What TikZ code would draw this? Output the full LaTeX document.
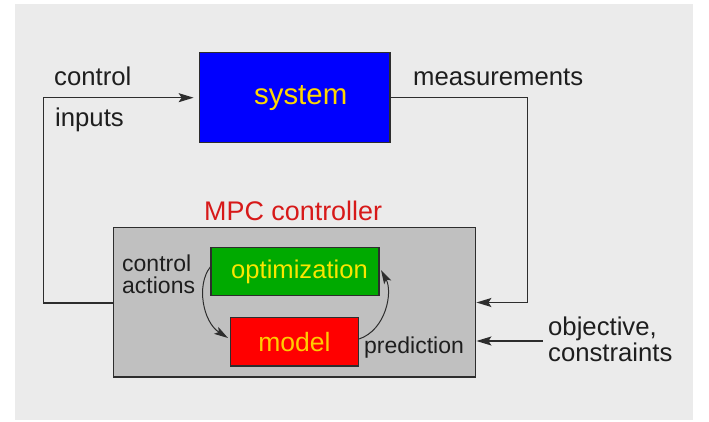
\documentclass[tikz,border=0pt]{standalone}
\usepackage{fontspec}
\setmainfont{Liberation Sans}
\usetikzlibrary{arrows.meta}
\definecolor{bggray}{RGB}{235,235,235}
\definecolor{ctrlgray}{RGB}{192,192,192}
\definecolor{sysblue}{RGB}{0,0,255}
\definecolor{optgreen}{RGB}{0,170,0}
\definecolor{modred}{RGB}{255,0,0}
\definecolor{txtyellow}{RGB}{255,215,0}
\definecolor{modyellow}{RGB}{255,205,0}
\definecolor{optyellow}{RGB}{250,230,0}
\definecolor{mpcred}{RGB}{215,25,25}
\definecolor{linegray}{RGB}{45,45,45}
\definecolor{txtdark}{RGB}{30,30,30}
\tikzset{
  box/.style={draw=linegray, line width=1.4pt, inner sep=0pt},
  conn/.style={draw=linegray, line width=1.5pt},
  arr/.style={conn, -{Stealth[length=15pt,width=9pt,inset=3pt]}},
  curvearr/.style={draw=linegray, line width=1pt, -{Stealth[length=14pt,width=8pt,inset=3pt]}},
  lbl/.style={anchor=base west, inner sep=0pt, text=txtdark, font=\fontsize{25.7}{28}\selectfont},
  smlbl/.style={anchor=base west, inner sep=0pt, text=txtdark, font=\fontsize{23}{25}\selectfont},
}
\begin{document}
\begin{tikzpicture}[x=1pt,y=-1pt]
\useasboundingbox (0,0) rectangle (709,422);
\fill[bggray] (15,4) rectangle (693,420);

% boxes
\node[box, fill=sysblue, minimum width=190.7pt, minimum height=90pt, text=txtyellow,
  font=\fontsize{29.4}{32}\selectfont] (sys) at (294.7,97.7) {\hspace{12pt}system};
\node[box, fill=ctrlgray, minimum width=362.4pt, minimum height=149.3pt] (ctrl) at (294.5,302.35) {};
\node[box, fill=optgreen, minimum width=168pt, minimum height=48.4pt, text=optyellow,
  font=\fontsize{25.6}{28}\selectfont] (opt) at (295,271.5) {\hspace{9pt}optimization};
\node[box, fill=modred, minimum width=127.6pt, minimum height=48.3pt, text=modyellow,
  font=\fontsize{26.5}{28}\selectfont] (mod) at (294.5,341.9) {model};

% texts
\node[lbl] (tcontrol) at (54,86) {control};
\node[lbl] (tinputs) at (55,127) {inputs};
\node[lbl] (tmeas) at (413,86) {measurements};
\node[anchor=base west, inner sep=0pt, text=mpcred, font=\fontsize{26.9}{29}\selectfont] (tmpc) at (204,220) {MPC controller};
\node[smlbl] (tca1) at (122,271.7) {control};
\node[smlbl] (tca2) at (122,293) {actions};
\node[smlbl] (tpred) at (364,353) {prediction};
\node[lbl] (tobj) at (548,335) {objective,};
\node[lbl] (tcons) at (548,361.7) {constraints};

% connector coordinates
\coordinate (cl1) at (43.3,303);
\coordinate (cl2) at (43.3,97.7);
\coordinate (cr1) at (527.7,97.7);
\coordinate (cr2) at (527.7,302.5);
\coordinate (oin) at (542.7,341);

% connectors
\draw[arr, shorten >=5pt] (ctrl.west |- cl1) -- (cl1) -- (cl2) -- (sys.west |- cl2);
\draw[arr] (sys.east |- cr1) -- (cr1) -- (cr2) -- (ctrl.east |- cr2);
\draw[arr] (oin) -- (ctrl.east |- oin);

% internal curved arrows
\coordinate (c1s) at (211,267);
\coordinate (c1e) at (228,338);
\coordinate (c2s) at (360,339);
\coordinate (c2e) at (381,270);
\draw[curvearr] (opt.west |- c1s) .. controls (196,285) and (203,322) .. (c1e);
\draw[curvearr] (mod.east |- c2s) .. controls (386,330) and (393,292) .. (c2e);
\end{tikzpicture}
\end{document}
